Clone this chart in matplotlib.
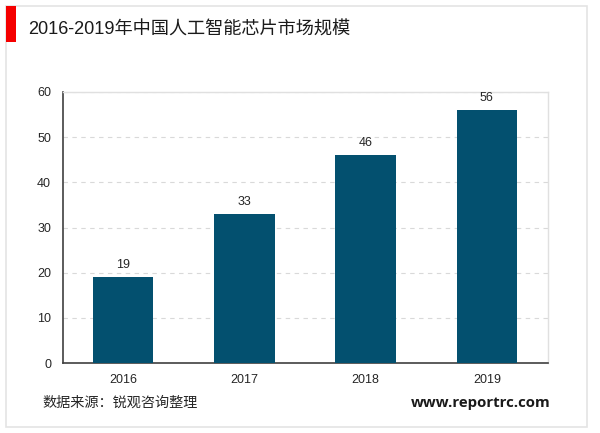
import matplotlib
matplotlib.use('Agg')
import matplotlib.pyplot as plt
from matplotlib.patches import Rectangle

plt.rcParams['font.family'] = ['Liberation Sans', 'Noto Sans CJK SC', 'DejaVu Sans']

years = ['2016', '2017', '2018', '2019']
market_size = [19, 33, 46, 56]
y_ticks = [0, 10, 20, 30, 40, 50, 60]

W, H = 600, 433
fig = plt.figure(figsize=(W / 100, H / 100), dpi=100)

# plot area in pixels from the reference
left, right, top, bottom = 62.5, 547.5, 92, 363
ax = fig.add_axes([left / W, 1 - bottom / H, (right - left) / W, (bottom - top) / H])

ax.bar(years, market_size, width=0.5, color='#03506F', zorder=3)
for i, v in enumerate(market_size):
    ax.annotate(str(v), (i, v), xytext=(0, 4.3), textcoords='offset points',
                ha='center', va='bottom', fontsize=9, color='#262626', zorder=4)

ax.set_xlim(-0.5, 3.5)
ax.set_ylim(0, 60)
ax.set_yticks(y_ticks)
ax.tick_params(axis='both', length=0, labelsize=9, labelcolor='#262626')
ax.tick_params(axis='x', pad=7.6)
ax.tick_params(axis='y', pad=8.2)
ax.grid(axis='y', color='#D9D9D9', linestyle=(0, (4, 4)), linewidth=0.8, zorder=0)

ax.spines['left'].set_color('#404040')
ax.spines['left'].set_linewidth(1.2)
ax.spines['bottom'].set_color('#404040')
ax.spines['bottom'].set_linewidth(1.2)
ax.spines['top'].set_color('#E0E0E0')
ax.spines['right'].set_color('#E0E0E0')
ax.spines['top'].set_linewidth(1.0)
ax.spines['right'].set_linewidth(1.0)

# outer frame and red marker
fig.add_artist(Rectangle((6 / W, 1 - 427 / H), 581 / W, 421 / H, transform=fig.transFigure,
                         facecolor='none', edgecolor='#E4E4E4', linewidth=1.2))
fig.add_artist(Rectangle((6 / W, 1 - 42 / H), 10 / W, 36 / H, transform=fig.transFigure,
                         facecolor='#F50000', edgecolor='none'))

fig.text(28 / W, 1 - 30 / H, '2016-2019年中国人工智能芯片市场规模', fontsize=13.1,
         color='#1A1A1A', va='center', ha='left')
fig.text(42 / W, 1 - 403 / H, '数据来源：锐观咨询整理', fontsize=10.2,
         color='#262626', va='center', ha='left')
fig.text(551 / W, 1 - 403 / H, 'www.reportrc.com', fontsize=10.8, fontweight='bold',
         color='#1A1A1A', va='center', ha='right', family=['Open Sans', 'DejaVu Sans'])

fig.savefig('out.png', dpi=100)
